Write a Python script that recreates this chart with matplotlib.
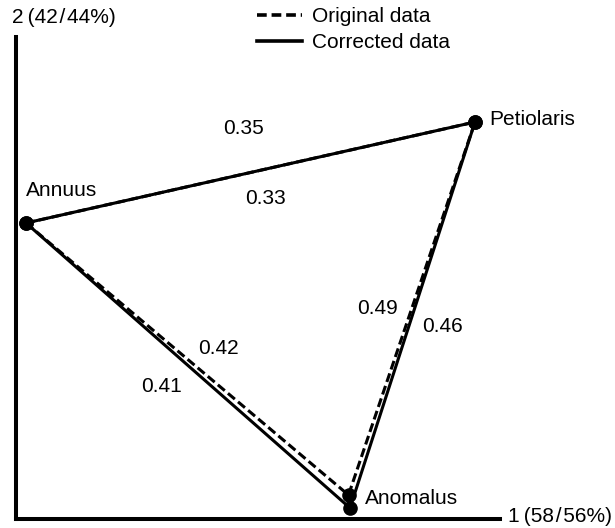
import matplotlib
matplotlib.use("Agg")
import matplotlib.pyplot as plt
from matplotlib.lines import Line2D

plt.rcParams['font.family'] = ['Liberation Sans', 'DejaVu Sans']
plt.rcParams['lines.scale_dashes'] = False

# Ordination scores (axis 1, axis 2)
taxa = ["Annuus", "Petiolaris", "Anomalus"]
corrected_x = [0.10, 4.59, 3.34]
corrected_y = [2.96, 3.97, 0.11]
original_x = [0.10, 4.59, 3.325]
original_y = [2.96, 3.97, 0.24]

# Distance labels on edges
dist_labels = ["0.35", "0.33", "0.42", "0.41", "0.49", "0.46"]
dist_x = [2.27, 2.49, 2.02, 1.45, 3.61, 4.27]
dist_y = [3.91, 3.21, 1.70, 1.32, 2.11, 1.92]

name_x = [0.10, 4.73, 3.49]
name_y = [3.29, 4.00, 0.20]

axis1_label = "1\u2009(58\u200a/\u200a56%)"
axis2_label = "2\u2009(42\u200a/\u200a44%)"

fig = plt.figure(figsize=(6.15, 5.28), dpi=100)
ax = fig.add_axes([16/615, 9/528, 484/615, 482/528])
ax.set_xlim(0, 4.84)
ax.set_ylim(0, 4.82)

for s in ['top', 'right']:
    ax.spines[s].set_visible(False)
for s in ['left', 'bottom']:
    ax.spines[s].set_linewidth(2.9)
    ax.spines[s].set_capstyle('projecting')
ax.set_xticks([])
ax.set_yticks([])

def closed(v):
    return list(v) + [v[0]]

ax.plot(closed(original_x), closed(original_y), color='black', lw=2.2,
        linestyle=(0, (6.5, 3.0)), solid_capstyle='butt', zorder=2)
ax.plot(closed(corrected_x), closed(corrected_y), color='black', lw=2.2,
        solid_joinstyle='miter', zorder=3)
ax.plot(original_x, original_y, 'o', color='black', ms=9.5, zorder=4)
ax.plot(corrected_x, corrected_y, 'o', color='black', ms=9.5, zorder=4)

for t, x, y in zip(taxa, name_x, name_y):
    ax.text(x, y, t, fontsize=15, ha='left', va='center')
for t, x, y in zip(dist_labels, dist_x, dist_y):
    ax.text(x, y, t, fontsize=15, ha='center', va='center')

ax.text(-0.04, 5.02, axis2_label, fontsize=15, ha='left', va='center', clip_on=False)
ax.text(4.92, 0.02, axis1_label, fontsize=15, ha='left', va='center', clip_on=False)

handles = [Line2D([], [], color='black', lw=2.6, linestyle=(0, (7.0, 3.5))),
           Line2D([], [], color='black', lw=2.6)]
fig.legend(handles, ["Original data", "Corrected data"], loc='upper left',
           bbox_to_anchor=(257/615, 1 - 7/528), frameon=False, fontsize=15,
           handlelength=2.15, handletextpad=0.5, labelspacing=0.35,
           borderpad=0, borderaxespad=0)

fig.savefig("out.png", dpi=100)
